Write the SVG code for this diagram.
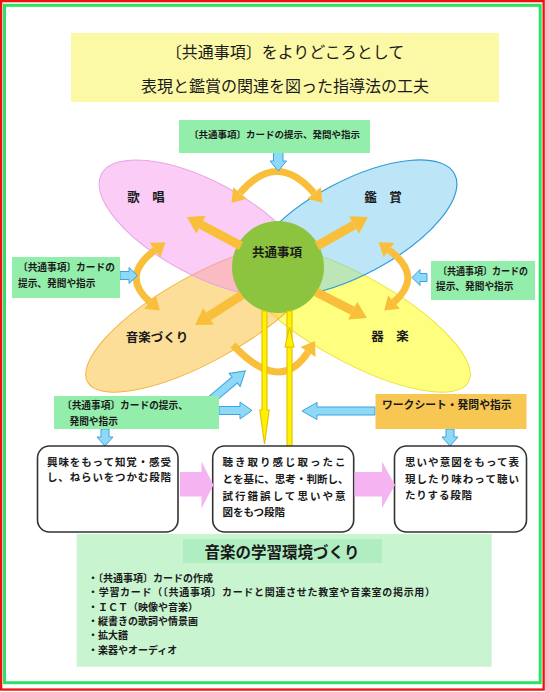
<svg xmlns="http://www.w3.org/2000/svg" width="545" height="692" viewBox="0 0 545 692">
<style>
.jp{font-family:"Noto Sans CJK JP","Noto Sans",sans-serif;fill:#1a1a1a}
.b{font-weight:bold}
.gbox{fill:#92EEAA}
.barrow{fill:#8ED8F8;stroke:#3FA3DD;stroke-width:1}
.parrow{fill:#F6B3F2}
.stage{fill:#fff;stroke:#333;stroke-width:1.6}
.gold{fill:none;stroke:#F9BF3B}
.yl{fill:#FFF200;stroke:#E3BE00;stroke-width:1.1}
</style>
<defs>
<marker id="gh" markerUnits="userSpaceOnUse" markerWidth="18" markerHeight="22" viewBox="0 -11 17 22" refX="0" refY="0" orient="auto-start-reverse"><path d="M0,-10 L16,0 L0,10Z" fill="#F9BF3B"/></marker>
<marker id="ga" markerUnits="userSpaceOnUse" markerWidth="16" markerHeight="20" viewBox="0 -10 15 20" refX="0" refY="0" orient="auto-start-reverse"><path d="M0,-9 L13,0 L0,9Z" fill="#F9BF3B"/></marker>
</defs>
<rect width="545" height="692" fill="#fff"/>
<rect x="1.15" y="1.15" width="542.5" height="688.4" fill="none" stroke="#EE1111" stroke-width="2.3"/>
<rect x="4.5" y="5.3" width="535.7" height="677.4" fill="none" stroke="#2FE065" stroke-width="3"/>

<g id="title">
<rect x="71" y="33" width="428" height="69" fill="#FCF9A6"/>
<text class="jp" x="285" y="58" font-size="16" text-anchor="middle">〔共通事項〕をよりどころとして</text>
<text class="jp" x="285" y="92" font-size="16" text-anchor="middle">表現と鑑賞の関連を図った指導法の工夫</text>
</g>

<g id="ellipses">
<ellipse id="n-kigaku" cx="353" cy="318" rx="132" ry="43" transform="rotate(29 353 318)" fill="#FFFF00" fill-opacity="0.5" stroke="#EDE23A" stroke-width="1"/>
<ellipse id="n-ongakuzukuri" cx="203" cy="318" rx="132" ry="43" transform="rotate(-29 203 318)" fill="#F9C650" fill-opacity="0.58" stroke="#F0B53A" stroke-width="1"/>
<ellipse id="n-kasho" cx="203" cy="228" rx="115" ry="47" transform="rotate(28 203 228)" fill="#F79AEC" fill-opacity="0.5" stroke="#E6A6E6" stroke-width="1"/>
<ellipse id="n-kansho" cx="353" cy="228" rx="115" ry="47" transform="rotate(-28 353 228)" fill="#7ACDF2" fill-opacity="0.5" stroke="#2E9BD8" stroke-width="1.2"/>
</g>

<g id="center">
<circle cx="278" cy="267" r="46" fill="#8DC43F"/>
<text class="jp b" x="277" y="257.3" font-size="12.5" text-anchor="middle">共通事項</text>
</g>

<g id="labels">
<text class="jp b" x="146" y="201.8" font-size="12.5" text-anchor="middle">歌　唱</text>
<text class="jp b" x="383" y="201.8" font-size="12.5" text-anchor="middle">鑑　賞</text>
<text class="jp b" x="157" y="342.3" font-size="12.5" text-anchor="middle">音楽づくり</text>
<text class="jp b" x="390" y="340.8" font-size="12.5" text-anchor="middle">器　楽</text>
</g>

<g id="connectors">
<path class="gold" stroke-width="7" d="M240,193 Q277,150 314,193" marker-start="url(#ga)" marker-end="url(#ga)"/>
<path class="gold" stroke-width="7" d="M155,250 Q120,276 150,302" marker-start="url(#ga)" marker-end="url(#ga)"/>
<path class="gold" stroke-width="7" d="M389,250 Q424,276 394,302" marker-start="url(#ga)" marker-end="url(#ga)"/>
<path class="gold" stroke-width="7" d="M233,345 Q280,395 308,352" marker-end="url(#ga)"/>
<line class="gold" stroke-width="9" x1="241" y1="246" x2="201" y2="224.6" marker-end="url(#gh)"/>
<line class="gold" stroke-width="9" x1="317" y1="246" x2="354" y2="225" marker-end="url(#gh)"/>
<line class="gold" stroke-width="9" x1="242" y1="295" x2="208.5" y2="316.4" marker-end="url(#gh)"/>
<line class="gold" stroke-width="9" x1="316" y1="292" x2="352.7" y2="310.7" marker-end="url(#gh)"/>
<path class="yl" d="M262,311 L262,410 L259.8,410 L264.5,444 L269.2,410 L267,410 L267,311 Z"/>
<path class="yl" d="M287,311 L292,311 L292,446 L287,446 Z"/>
<path class="yl" d="M285,347 L289.5,327 L294,347 Z"/>
<polygon class="barrow" points="273.5,152 283,152 283,161 286.5,161 278.25,171 270,161 273.5,161"/>
<polygon class="barrow" points="120,271.5 129,271.5 129,267.5 137.5,275.5 129,283.5 129,279.5 120,279.5"/>
<polygon class="barrow" points="427,273.5 420,273.5 420,269.5 412,277.5 420,285.5 420,281.5 427,281.5"/>
<polygon class="barrow" transform="translate(211 400) rotate(-40.3)" points="0,-4 31,-4 31,-8.5 45,0 31,8.5 31,4 0,4"/>
<polygon class="barrow" points="219,406.5 240,406.5 240,402 252,410.5 240,419 240,414.5 219,414.5"/>
<polygon class="barrow" points="375,407 317,407 317,402.5 302,411 317,419.5 317,415 375,415"/>
<polygon class="barrow" points="101,429 109,429 109,437 113,437 105,446 97,437 101,437"/>
<polygon class="barrow" points="446,429 454,429 454,437 458,437 450,446 442,437 446,437"/>
</g>

<g id="card-top">
<rect class="gbox" x="179" y="120" width="191" height="33"/>
<text class="jp b" x="274.5" y="137.6" font-size="9.5" text-anchor="middle">〔共通事項〕カードの提示、発問や指示</text>
</g>
<g id="card-left">
<rect class="gbox" x="12" y="257" width="108" height="41"/>
<text class="jp b" x="18" y="270.7" font-size="9.7">〔共通事項〕カードの</text>
<text class="jp b" x="18" y="286.7" font-size="9.7">提示、発問や指示</text>
</g>
<g id="card-right">
<rect class="gbox" x="431" y="261" width="104" height="39"/>
<text class="jp b" x="438" y="275.2" font-size="9.7" textLength="90" lengthAdjust="spacingAndGlyphs">〔共通事項〕カードの</text>
<text class="jp b" x="436" y="290.2" font-size="9.7">提示、発問や指示</text>
</g>
<g id="card-bottom-left">
<rect class="gbox" x="54" y="396" width="165" height="33"/>
<text class="jp b" x="62" y="408.7" font-size="9.7">〔共通事項〕カードの提示、</text>
<text class="jp b" x="69.5" y="425.4" font-size="9.7">発問や指示</text>
</g>
<g id="worksheet">
<rect x="375.5" y="394" width="151" height="35" fill="#F8C652"/>
<text class="jp b" x="382" y="408.5" font-size="10.8">ワークシート・発問や指示</text>
</g>

<g id="stage1">
<rect class="stage" x="37.5" y="446" width="140.5" height="86" rx="12"/>
<text class="jp b" x="47" y="465.7" font-size="10.5" textLength="124" lengthAdjust="spacing">興味をもって知覚・感受</text>
<text class="jp b" x="47" y="481.3" font-size="10.5" textLength="124" lengthAdjust="spacing">し、ねらいをつかむ段階</text>
</g>
<g id="stage2">
<rect class="stage" x="212.7" y="446" width="141" height="86" rx="12"/>
<text class="jp b" x="222.5" y="465.7" font-size="10.5" textLength="123" lengthAdjust="spacing">聴き取り感じ取ったこ</text>
<text class="jp b" x="222.5" y="482.5" font-size="10.5" textLength="126" lengthAdjust="spacing">とを基に、思考・判断し、</text>
<text class="jp b" x="222.5" y="499.5" font-size="10.5" textLength="123" lengthAdjust="spacing">試行錯誤して思いや意</text>
<text class="jp b" x="222.5" y="516" font-size="10.5">図をもつ段階</text>
</g>
<g id="stage3">
<rect class="stage" x="394.5" y="446" width="132" height="86" rx="12"/>
<text class="jp b" x="405" y="465.7" font-size="10.5" textLength="114" lengthAdjust="spacing">思いや意図をもって表</text>
<text class="jp b" x="405" y="483" font-size="10.5" textLength="114" lengthAdjust="spacing">現したり味わって聴い</text>
<text class="jp b" x="405" y="499" font-size="10.5" textLength="67" lengthAdjust="spacing">たりする段階</text>
</g>
<g id="stage-arrows">
<polygon class="parrow" points="180,472 201.5,472 201.5,461.5 213.5,485 201.5,508.5 201.5,496.5 180,496.5"/>
<polygon class="parrow" points="354.5,472 382,472 382,461.5 395,485 382,508 382,496.5 354.5,496.5"/>
</g>

<g id="environment">
<rect x="76.7" y="534" width="415" height="132.7" fill="#C8F5D0"/>
<rect x="183" y="539" width="199" height="24" fill="#B0EEC2"/>
<text class="jp b" x="282" y="557.6" font-size="15.5" text-anchor="middle">音楽の学習環境づくり</text>
<text class="jp b" x="88" y="581.8" font-size="10">・〔共通事項〕カードの作成</text>
<text class="jp b" x="88" y="596.3" font-size="10" textLength="347" lengthAdjust="spacing">・学習カード（〔共通事項〕カードと関連させた教室や音楽室の掲示用）</text>
<text class="jp b" x="88" y="610.8" font-size="10">・ＩＣＴ（映像や音楽）</text>
<text class="jp b" x="88" y="624.8" font-size="10">・縦書きの歌詞や情景画</text>
<text class="jp b" x="88" y="639.3" font-size="10">・拡大譜</text>
<text class="jp b" x="88" y="653.8" font-size="10">・楽器やオーディオ</text>
</g>
</svg>
